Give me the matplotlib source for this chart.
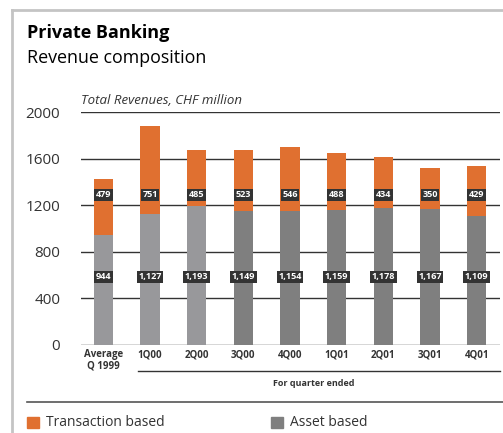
import numpy as np
import matplotlib
matplotlib.use('Agg')
from matplotlib import pyplot as plt
from matplotlib.patches import Rectangle
from matplotlib.lines import Line2D

plt.rcParams['font.family'] = ['Open Sans', 'DejaVu Sans']

quarters = ['Average\nQ 1999', '1Q00', '2Q00', '3Q00', '4Q00', '1Q01', '2Q01', '3Q01', '4Q01']
asset = [944, 1127, 1193, 1149, 1154, 1159, 1178, 1167, 1109]
transaction = [479, 751, 485, 523, 546, 488, 434, 350, 429]
yticks = [0, 400, 800, 1200, 1600, 2000]

orange = '#e07030'
grey_light = '#98989b'
grey_dark = '#7f7f7f'
W, H = 503, 433

fig = plt.figure(figsize=(W / 100, H / 100), dpi=100)

# frame on left / top
fig.add_artist(Line2D([12 / W, 12 / W], [0, 1 - 10 / H], color='#c4c4c4', lw=2))
fig.add_artist(Line2D([12 / W, 1], [1 - 10 / H, 1 - 10 / H], color='#c4c4c4', lw=2))

fig.text(27 / W, 1 - 33 / H, 'Private Banking', fontsize=13, fontweight='bold', va='center')
fig.text(27 / W, 1 - 58 / H, 'Revenue composition', fontsize=12.9, va='center')

ax = fig.add_axes([81 / W, 1 - 345 / H, 419 / W, 233 / H])
x = np.arange(len(quarters))
cols = [grey_light] * 3 + [grey_dark] * 6
ax.bar(x, asset, width=0.41, color=cols, zorder=3)
ax.bar(x, transaction, width=0.41, bottom=asset, color=orange, zorder=3)

for i in range(len(x)):
    for v, yy in ((asset[i], 585), (transaction[i], 1290)):
        ax.text(x[i], yy, f'{v:,}', ha='center', va='center', color='white',
                fontsize=6.6, fontweight='bold', zorder=5,
                bbox=dict(boxstyle='square,pad=0.18', fc='#333333', ec='none'))

ax.set_xlim(-0.48, 8.5)
ax.set_ylim(0, 2000)
ax.set_yticks(yticks)
ax.set_yticklabels([str(t) for t in yticks], fontsize=11, color='#333333')
ax.set_xticks(x)
ax.set_xticklabels(quarters, fontsize=7, fontweight='bold', color='#333333', linespacing=1.1)
ax.tick_params(axis='y', length=0, pad=15)
ax.tick_params(axis='x', length=0, pad=3)
for t in yticks:
    ax.axhline(t, color='#333333', lw=1, zorder=1)
for s in ax.spines.values():
    s.set_visible(False)
ax.set_facecolor('none')

fig.text(81 / W, 1 - 100 / H, 'Total Revenues, CHF million', fontsize=9.5, style='italic',
         va='center', color='#333333')

fig.add_artist(Line2D([138 / W, 500 / W], [1 - 371 / H] * 2, color='#333333', lw=1))
fig.text(314 / W, 1 - 383 / H, 'For quarter ended', fontsize=6.5, fontweight='bold',
         ha='center', va='center', color='#333333')
fig.add_artist(Line2D([27 / W, 1], [1 - 402 / H] * 2, color='#555555', lw=1.2))

fig.add_artist(Rectangle((27 / W, 1 - 428 / H), 12 / W, 11 / H, color=orange, transform=fig.transFigure))
fig.text(46 / W, 1 - 423 / H, 'Transaction based', fontsize=10, va='center', color='#333333')
fig.add_artist(Rectangle((271 / W, 1 - 428 / H), 12 / W, 11 / H, color=grey_dark, transform=fig.transFigure))
fig.text(290 / W, 1 - 423 / H, 'Asset based', fontsize=10, va='center', color='#333333')

fig.savefig('out.png', dpi=100)
